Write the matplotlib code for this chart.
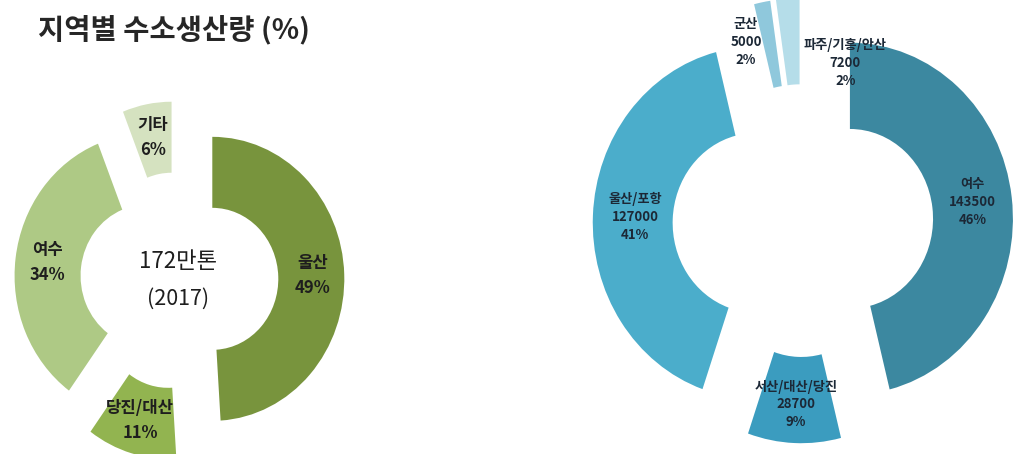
import numpy as np
import matplotlib
matplotlib.use('Agg')
import matplotlib.pyplot as plt

plt.rcParams['font.family'] = ['Noto Sans CJK KR', 'DejaVu Sans']

# left donut: share of hydrogen production by region (%)
share_regions = ['울산', '당진/대산', '여수', '기타']
share_pct     = [49, 11, 34, 6]
share_colors  = ['#78943D', '#92B450', '#AEC985', '#D5E2C0']
share_explode = [0.26, 0.27, 0.24, 0.26]

# right donut: production by region (tons)
prod_regions = ['여수', '서산/대산/당진', '울산/포항', '군산', '파주/기흥/안산']
prod_tons    = [143500, 28700, 127000, 5000, 7200]
prod_colors  = ['#3C88A0', '#3B9CBF', '#4BADCB', '#8FC8DC', '#B5DDE9']
prod_explode = [0.29, 0.24, 0.29, 0.29, 0.29]

W, H = 1016, 454
fig = plt.figure(figsize=(W / 100, H / 100), dpi=100)


def fit_axes(ax, left, right, cx, cy, rx, ry):
    """Map the pie so its centre sits at (cx, cy) px from the top-left
    and one data unit spans rx px across and ry px down."""
    ax.set_aspect('auto')
    ax.set_xlim((left - cx) / rx, (right - cx) / rx)
    ax.set_ylim(-(H - cy) / ry, cy / ry)
    ax.axis('off')


def label_xy(w, frac):
    mid = np.deg2rad((w.theta1 + w.theta2) / 2)
    x0, y0 = w.center
    return x0 + frac * w.r * np.cos(mid), y0 + frac * w.r * np.sin(mid)


# ---- left chart ----
fig.text(174 / W, 1 - 30 / H, '지역별 수소생산량 (%)', ha='center', va='center',
         fontsize=20.5, fontweight='bold', color='#262626')

axl = fig.add_axes([0, 0, 360 / W, 1])
wedges, _ = axl.pie(share_pct, colors=share_colors, explode=share_explode,
                    startangle=90, counterclock=False,
                    wedgeprops=dict(width=0.5, linewidth=0))
fit_axes(axl, 0, 360, 178, 280, 132, 142)

for w, name, pct in zip(wedges, share_regions, share_pct):
    x, y = label_xy(w, 0.76)
    axl.text(x, y, f'{name}\n{pct}%', ha='center', va='center',
             fontsize=12, fontweight='bold', color='#1e1e1e', linespacing=1.5)

axl.text(0, 0.13, '172만톤', ha='center', va='center', fontsize=16,
         fontweight='medium', color='#1e1e1e')
axl.text(0, -0.13, '(2017)', ha='center', va='center', fontsize=15.5,
         fontweight='medium', color='#1e1e1e')

# ---- right chart ----
axr = fig.add_axes([560 / W, 0, (W - 560) / W, 1])
total = sum(prod_tons)
wedges, _ = axr.pie(prod_tons, colors=prod_colors, explode=prod_explode,
                    startangle=90, counterclock=False,
                    wedgeprops=dict(width=0.49, linewidth=0))
fit_axes(axr, 560, W, 803, 225, 163, 176)

# in-ring label radius for the big wedges, fixed spots for the two slivers
inner_frac = [0.76, 0.78, 0.74, None, None]
outer_spot = [None, None, None, (-0.35, 1.04), (0.26, 0.92)]
for w, name, tons, frac, spot in zip(wedges, prod_regions, prod_tons,
                                     inner_frac, outer_spot):
    x, y = label_xy(w, frac) if frac is not None else spot
    axr.text(x, y, f'{name}\n{tons}\n{round(tons / total * 100)}%',
             ha='center', va='center', fontsize=9.5, fontweight='bold',
             color='#1c2836', linespacing=1.35)

fig.savefig('out.png', dpi=100, facecolor='white')
